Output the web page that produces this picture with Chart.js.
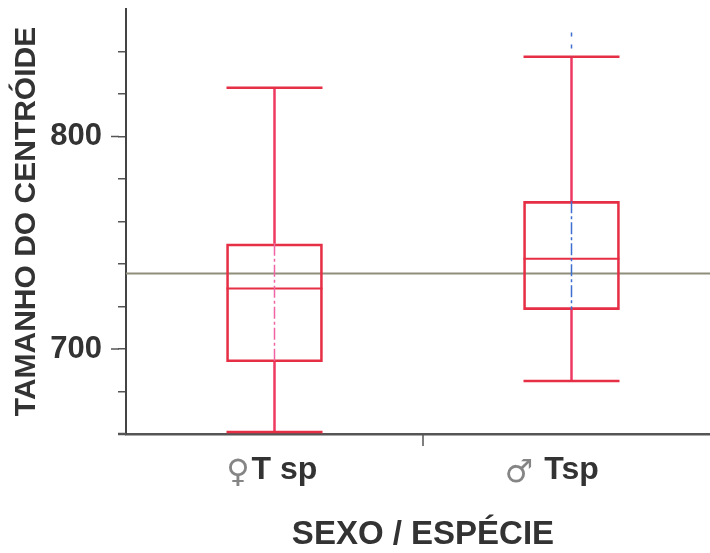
<!DOCTYPE html>
<html><head><meta charset="utf-8">
<script src="https://cdn.jsdelivr.net/npm/chart.js@4"></script>
<style>html,body{margin:0;padding:0;background:#fff;overflow:hidden}#wrap{width:720px;height:553px;position:relative}</style>
</head><body><div id="wrap"><canvas id="c"></canvas></div>
<script>
const categories = ['♀T sp', '♂ Tsp'];
const whiskerMin = [661, 685];
const quartile1 = [694, 718.5];
const medians = [728.5, 742.5];
const quartile3 = [749.5, 769.5];
const whiskerMax = [823, 837.5];
const centerLineTop = [823, 849];
const grandMean = 735.5;
const yMajorTicks = [700, 800];

const RED = '#e62e45';
const WHISK = '#ee3a62';
const centerColors = ['#f064a4', '#3d6fd0'];

const boxPlugin = {
  id: 'boxExtras',
  beforeDatasetsDraw(chart) {
    const {ctx, chartArea, scales: {y}} = chart;
    const gy = y.getPixelForValue(grandMean);
    ctx.save();
    ctx.strokeStyle = '#8e8e7a'; ctx.lineWidth = 2;
    ctx.beginPath(); ctx.moveTo(chartArea.left, gy); ctx.lineTo(chartArea.right, gy); ctx.stroke();
    ctx.restore();
  },
  afterDatasetsDraw(chart) {
    const {ctx, scales: {y}} = chart;
    const meta = chart.getDatasetMeta(0);
    ctx.save();
    categories.forEach((c, i) => {
      const {x: cx, width} = meta.data[i].getProps(['x', 'width'], true);
      const h = width / 2;
      const pMin = y.getPixelForValue(whiskerMin[i]);
      const pQ1 = y.getPixelForValue(quartile1[i]);
      const pMed = y.getPixelForValue(medians[i]);
      const pQ3 = y.getPixelForValue(quartile3[i]);
      const pMax = y.getPixelForValue(whiskerMax[i]);
      const pTop = y.getPixelForValue(centerLineTop[i]);
      ctx.setLineDash([]);
      ctx.strokeStyle = WHISK; ctx.lineWidth = 2.5;
      ctx.beginPath();
      ctx.moveTo(cx, pQ3); ctx.lineTo(cx, pMax);
      ctx.moveTo(cx, pQ1); ctx.lineTo(cx, pMin);
      ctx.stroke();
      ctx.strokeStyle = RED; ctx.lineWidth = 2.5;
      ctx.beginPath();
      ctx.moveTo(cx - h, pMax); ctx.lineTo(cx + h, pMax);
      ctx.moveTo(cx - h, pMin); ctx.lineTo(cx + h, pMin);
      ctx.stroke();
      ctx.lineWidth = 2;
      ctx.beginPath(); ctx.moveTo(cx - h, pMed); ctx.lineTo(cx + h, pMed); ctx.stroke();
      ctx.strokeStyle = centerColors[i]; ctx.lineWidth = 1.5;
      ctx.setLineDash([12, 3, 3, 3]);
      ctx.beginPath(); ctx.moveTo(cx, pQ3); ctx.lineTo(cx, pQ1); ctx.stroke();
      if (pTop < pMax - 1) {
        ctx.setLineDash([4, 8]);
        ctx.beginPath(); ctx.moveTo(cx, pTop); ctx.lineTo(cx, pMax); ctx.stroke();
      }
    });
    ctx.restore();
  },
  afterDraw(chart) {
    const {ctx, chartArea, scales: {x, y}} = chart;
    ctx.save();
    ctx.strokeStyle = '#555'; ctx.lineWidth = 1.5;
    yMajorTicks.forEach(v => {
      const py = y.getPixelForValue(v);
      ctx.beginPath(); ctx.moveTo(chartArea.left - 15, py); ctx.lineTo(chartArea.left - 7, py); ctx.stroke();
    });
    ctx.strokeStyle = '#555'; ctx.lineWidth = 2.5;
    ctx.beginPath(); ctx.moveTo(chartArea.left - 8, chartArea.bottom); ctx.lineTo(chartArea.left, chartArea.bottom); ctx.stroke();
    const mid = (x.getPixelForValue(0) + x.getPixelForValue(1)) / 2;
    ctx.lineWidth = 1.5;
    ctx.beginPath(); ctx.moveTo(mid, chartArea.bottom); ctx.lineTo(mid, chartArea.bottom + 12); ctx.stroke();
    const shifts = chart.options.plugins.boxExtras.labelShift;
    categories.forEach((lab, i) => {
      const cx = x.getPixelForValue(i);
      const sym = lab.slice(0, 1);
      const rest = lab.slice(1);
      ctx.font = 'bold 32px "Liberation Sans", Arial, sans-serif';
      const trimmed = rest.trimStart();
      const lead = ctx.measureText(rest).width - ctx.measureText(trimmed).width;
      const tw = ctx.measureText(trimmed).width;
      const left = cx + shifts[i] - tw / 2;
      ctx.fillStyle = '#333';
      ctx.textAlign = 'left'; ctx.textBaseline = 'alphabetic';
      ctx.fillText(trimmed, left, 479);
      ctx.font = '32px "DejaVu Sans", sans-serif';
      ctx.fillStyle = '#858585';
      ctx.textAlign = 'right';
      ctx.fillText(sym, left - lead - 2, 482);
    });
    ctx.restore();
  }
};

new Chart(document.getElementById('c'), {
  type: 'bar',
  data: {
    labels: categories,
    datasets: [{
      data: categories.map((c, i) => [quartile1[i], quartile3[i]]),
      backgroundColor: 'rgba(255,255,255,0)',
      borderColor: RED,
      borderWidth: 2,
      borderSkipped: false,
      barThickness: 96
    }]
  },
  options: {
    responsive: true,
    maintainAspectRatio: false,
    animation: false,
    layout: {padding: {top: 9, right: 0, left: 0, bottom: 0}},
    plugins: {
      legend: {display: false},
      tooltip: {enabled: false},
      boxExtras: {labelShift: [10, 0]}
    },
    scales: {
      x: {
        type: 'category',
        grid: {display: false},
        border: {display: true, color: '#555', width: 2.5},
        ticks: {display: false},
        title: {display: true, text: 'SEXO / ESPÉCIE', color: '#333',
          font: {family: '"Liberation Sans", Arial, sans-serif', size: 33, weight: 'bold', lineHeight: 1.1},
          padding: {top: 0, bottom: 0}},
        afterFit(s) { s.height = 119; s.paddingLeft = 0; s.paddingRight = 0; }
      },
      y: {
        min: 660, max: 860,
        grid: {drawOnChartArea: false, drawTicks: true, tickLength: 8, lineWidth: 1.5,
          color: ctx => (ctx.tick && ctx.tick.value === 860) ? 'rgba(0,0,0,0)' : '#555'},
        border: {display: true, color: '#444', width: 2},
        ticks: {stepSize: 20, padding: 16, color: '#333',
          font: {family: '"Liberation Sans", Arial, sans-serif', size: 31, weight: 'bold'},
          callback: v => (v % 100 === 0 && v >= 700 && v <= 800) ? String(v) : ''},
        title: {display: true, text: 'TAMANHO DO CENTRÓIDE', color: '#333',
          font: {family: '"Liberation Sans", Arial, sans-serif', size: 30, weight: 'bold', lineHeight: 1.2},
          padding: {top: 9, bottom: 0}},
        afterFit(s) { s.width = 126; s.paddingTop = 0; s.paddingBottom = 0; }
      }
    }
  },
  plugins: [boxPlugin]
});
</script>
</body></html>
